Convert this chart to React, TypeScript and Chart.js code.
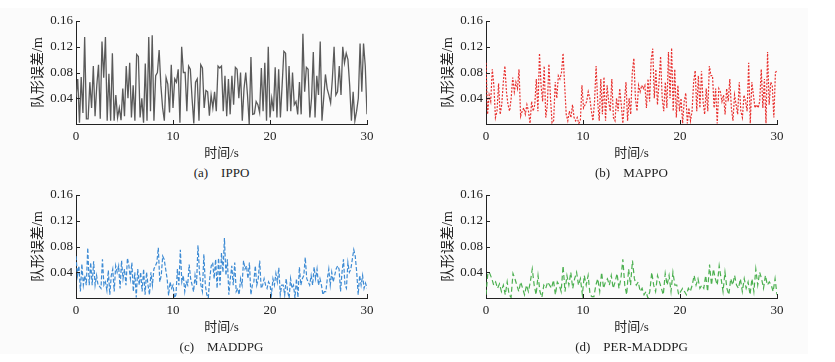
import React, { useEffect, useRef } from 'react';
import { Chart, registerables } from 'chart.js';

Chart.register(...registerables);

// ---------------- data ----------------
const X_MAX = 30;
const X_TICKS = [0, 10, 20, 30];
const Y_TICKS = [0.04, 0.08, 0.12, 0.16];
const X_TITLE = '时间/s';
const Y_TITLE = '队形误差/m';

const IPPO = [
  0.042, 0.070, 0.002, 0.073, 0.017, 0.135, 0.008, 0.008, 0.065, 0.025,
  0.090, 0.012, 0.060, 0.092, 0.008, 0.128, 0.072, 0.135, 0.005, 0.078,
  0.005, 0.110, 0.005, 0.045, 0.010, 0.025, 0.006, 0.055, 0.012, 0.090,
  0.040, 0.095, 0.010, 0.060, 0.005, 0.108, 0.105, 0.010, 0.040, 0.002,
  0.094, 0.005, 0.135, 0.020, 0.138, 0.005, 0.075, 0.080, 0.115, 0.060,
  0.025, 0.005, 0.072, 0.062, 0.018, 0.092, 0.025, 0.070, 0.065, 0.085,
  0.002, 0.120, 0.080, 0.080, 0.020, 0.090, 0.085, 0.040, 0.001, 0.065,
  0.070, 0.005, 0.092, 0.087, 0.025, 0.052, 0.050, 0.013, 0.045, 0.025,
  0.050, 0.020, 0.090, 0.087, 0.090, 0.020, 0.075, 0.012, 0.070, 0.015,
  0.075, 0.030, 0.088, 0.085, 0.040, 0.080, 0.005, 0.055, 0.080, 0.045,
  0.000, 0.104, 0.015, 0.016, 0.035, 0.030, 0.018, 0.087, 0.020, 0.095,
  0.005, 0.120, 0.010, 0.040, 0.020, 0.088, 0.010, 0.085, 0.010, 0.060,
  0.113, 0.110, 0.020, 0.090, 0.020, 0.080, 0.030, 0.035, 0.015, 0.065,
  0.015, 0.140, 0.050, 0.088, 0.085, 0.010, 0.040, 0.112, 0.010, 0.075,
  0.045, 0.128, 0.005, 0.040, 0.077, 0.055, 0.045, 0.033, 0.070, 0.120,
  0.045, 0.050, 0.090, 0.045, 0.120, 0.095, 0.110, 0.100, 0.060, 0.005,
  0.050, 0.005, 0.020, 0.040, 0.125, 0.050, 0.125, 0.090, 0.015,
];

const MAPPO = [
  0.095, 0.015, 0.045, 0.035, 0.085, 0.060, 0.010, 0.020, 0.063, 0.015,
  0.030, 0.065, 0.090, 0.050, 0.030, 0.020, 0.040, 0.072, 0.050, 0.065,
  0.055, 0.085, 0.012, 0.020, 0.025, 0.015, 0.030, 0.020, 0.001, 0.035,
  0.020, 0.030, 0.070, 0.020, 0.110, 0.060, 0.035, 0.090, 0.010, 0.030,
  0.093, 0.040, 0.002, 0.005, 0.065, 0.040, 0.075, 0.070, 0.080, 0.110,
  0.060, 0.015, 0.005, 0.020, 0.010, 0.030, 0.010, 0.005, 0.010, 0.001,
  0.005, 0.060, 0.025, 0.030, 0.035, 0.050, 0.040, 0.020, 0.005, 0.035,
  0.090, 0.035, 0.005, 0.070, 0.015, 0.073, 0.005, 0.060, 0.035, 0.020,
  0.070, 0.010, 0.005, 0.040, 0.020, 0.055, 0.030, 0.001, 0.035, 0.065,
  0.005, 0.040, 0.015, 0.080, 0.102, 0.040, 0.020, 0.060, 0.050, 0.060,
  0.055, 0.060, 0.025, 0.070, 0.035, 0.100, 0.117, 0.040, 0.085, 0.030,
  0.065, 0.105, 0.040, 0.020, 0.065, 0.025, 0.112, 0.040, 0.118, 0.020,
  0.085, 0.010, 0.060, 0.020, 0.040, 0.001, 0.035, 0.048, 0.001, 0.025,
  0.005, 0.020, 0.065, 0.083, 0.020, 0.075, 0.025, 0.082, 0.035, 0.015,
  0.055, 0.020, 0.090, 0.075, 0.075, 0.025, 0.055, 0.001, 0.055, 0.050,
  0.035, 0.045, 0.015, 0.055, 0.035, 0.070, 0.025, 0.005, 0.045, 0.030,
  0.015, 0.065, 0.020, 0.010, 0.045, 0.035, 0.020, 0.095, 0.001, 0.065,
  0.045, 0.025, 0.030, 0.025, 0.035, 0.085, 0.025, 0.070, 0.001, 0.112,
  0.030, 0.065, 0.060, 0.010, 0.080, 0.083,
];

const MADDPG = [
  0.065, 0.035, 0.050, 0.010, 0.053, 0.020, 0.035, 0.020, 0.078, 0.020,
  0.055, 0.020, 0.057, 0.020, 0.035, 0.020, 0.018, 0.015, 0.060, 0.020,
  0.025, 0.012, 0.043, 0.005, 0.035, 0.045, 0.010, 0.050, 0.040, 0.050,
  0.015, 0.058, 0.030, 0.045, 0.020, 0.062, 0.050, 0.030, 0.055, 0.010,
  0.040, 0.001, 0.045, 0.020, 0.040, 0.010, 0.045, 0.005, 0.040, 0.020,
  0.005, 0.040, 0.020, 0.045, 0.050, 0.055, 0.078, 0.025, 0.035, 0.065,
  0.060, 0.045, 0.030, 0.004, 0.025, 0.015, 0.020, 0.000, 0.005, 0.045,
  0.020, 0.075, 0.025, 0.035, 0.010, 0.025, 0.020, 0.052, 0.030, 0.020,
  0.010, 0.035, 0.020, 0.082, 0.040, 0.020, 0.010, 0.068, 0.020, 0.005,
  0.000, 0.030, 0.050, 0.055, 0.030, 0.060, 0.015, 0.062, 0.020, 0.070,
  0.040, 0.093, 0.035, 0.060, 0.005, 0.030, 0.050, 0.020, 0.055, 0.010,
  0.015, 0.005, 0.030, 0.020, 0.058, 0.045, 0.050, 0.030, 0.055, 0.005,
  0.020, 0.025, 0.050, 0.020, 0.030, 0.058, 0.015, 0.020, 0.030, 0.020,
  0.015, 0.025, 0.020, 0.005, 0.030, 0.020, 0.038, 0.025, 0.047, 0.005,
  0.020, 0.020, 0.005, 0.030, 0.010, 0.000, 0.030, 0.015, 0.020, 0.000,
  0.030, 0.001, 0.048, 0.020, 0.030, 0.035, 0.063, 0.030, 0.025, 0.020,
  0.035, 0.020, 0.048, 0.030, 0.045, 0.020, 0.030, 0.020, 0.005, 0.010,
  0.010, 0.030, 0.045, 0.020, 0.040, 0.025, 0.035, 0.045, 0.050, 0.045,
  0.010, 0.040, 0.060, 0.020, 0.015, 0.055, 0.040, 0.045, 0.060, 0.075,
  0.065, 0.040, 0.005, 0.035, 0.020, 0.035, 0.015, 0.023, 0.015,
];

const PER_MADDPG = [
  0.005, 0.040, 0.038, 0.030, 0.020, 0.025, 0.015, 0.022, 0.010, 0.020,
  0.005, 0.025, 0.005, 0.001, 0.038, 0.030, 0.020, 0.010, 0.025, 0.015,
  0.005, 0.020, 0.010, 0.025, 0.045, 0.020, 0.005, 0.035, 0.010, 0.001,
  0.020, 0.015, 0.025, 0.020, 0.015, 0.028, 0.005, 0.025, 0.020, 0.010,
  0.050, 0.010, 0.035, 0.020, 0.040, 0.015, 0.030, 0.040, 0.020, 0.030,
  0.005, 0.035, 0.020, 0.035, 0.005, 0.002, 0.002, 0.020, 0.030, 0.010,
  0.040, 0.015, 0.025, 0.030, 0.020, 0.035, 0.015, 0.025, 0.038, 0.015,
  0.030, 0.060, 0.020, 0.005, 0.045, 0.020, 0.058, 0.030, 0.020, 0.025,
  0.010, 0.015, 0.005, 0.010, 0.000, 0.010, 0.040, 0.020, 0.010, 0.035,
  0.025, 0.015, 0.005, 0.038, 0.020, 0.035, 0.010, 0.040, 0.020, 0.020,
  0.005, 0.010, 0.015, 0.010, 0.005, 0.015, 0.010, 0.020, 0.035, 0.020,
  0.030, 0.015, 0.020, 0.015, 0.035, 0.010, 0.052, 0.020, 0.045, 0.030,
  0.020, 0.050, 0.030, 0.010, 0.040, 0.015, 0.005, 0.030, 0.020, 0.035,
  0.020, 0.015, 0.030, 0.010, 0.030, 0.015, 0.025, 0.005, 0.030, 0.010,
  0.045, 0.020, 0.040, 0.030, 0.015, 0.035, 0.020, 0.025, 0.020, 0.010,
  0.030, 0.005,
];

// ---------------- styling ----------------
const AXIS_COLOR = '#222';
const TEXT_COLOR = '#222';
const SERIF = "'Liberation Serif', 'Times New Roman', serif";
const TITLE_FONT = "'Liberation Serif', 'Noto Sans CJK SC', serif";

const CANVAS_W = 417;
const CANVAS_H = 165;

const inwardTicks = {
  id: 'inwardTicks',
  afterDraw(chart: any) {
    const { ctx, chartArea, scales } = chart;
    const x = scales.x;
    const y = scales.y;
    ctx.save();
    ctx.strokeStyle = AXIS_COLOR;
    ctx.lineWidth = 1;
    ctx.beginPath();
    X_TICKS.slice(1).forEach((v) => {
      const px = Math.round(x.getPixelForValue(v)) + 0.5;
      ctx.moveTo(px, chartArea.bottom);
      ctx.lineTo(px, chartArea.bottom - 4);
    });
    Y_TICKS.forEach((v) => {
      const py = Math.round(y.getPixelForValue(v)) + 0.5;
      ctx.moveTo(chartArea.left, py);
      ctx.lineTo(chartArea.left + 4, py);
    });
    ctx.stroke();
    ctx.restore();
  },
};

function toPoints(values: number[]) {
  const n = values.length;
  return values.map((v, i) => ({ x: (X_MAX * i) / (n - 1), y: v }));
}

type PanelProps = {
  left: number;
  top: number;
  values: number[];
  color: string;
  dash: number[];
  width: number;
  caption: string;
};

function Panel({ left, top, values, color, dash, width, caption }: PanelProps) {
  const ref = useRef<HTMLCanvasElement>(null);
  useEffect(() => {
    if (!ref.current) return;
    const chart = new Chart(ref.current, {
      type: 'line',
      data: {
        datasets: [
          {
            data: toPoints(values),
            borderColor: color,
            borderWidth: width,
            borderDash: dash,
            pointRadius: 0,
            tension: 0,
            fill: false,
          },
        ],
      },
      options: {
        animation: false,
        responsive: false,
        maintainAspectRatio: false,
        layout: { padding: { left: 0, right: 50, top: 21, bottom: 0 } },
        plugins: { legend: { display: false }, tooltip: { enabled: false } },
        scales: {
          x: {
            type: 'linear',
            min: 0,
            max: X_MAX,
            afterBuildTicks: (s: any) => {
              s.ticks = X_TICKS.map((v) => ({ value: v }));
            },
            grid: { display: false, drawTicks: false },
            border: { display: true, color: AXIS_COLOR, width: 1 },
            ticks: {
              padding: 5,
              color: TEXT_COLOR,
              font: { family: SERIF, size: 13 },
              maxRotation: 0,
              autoSkip: false,
              callback: (v: any) => String(v),
            },
            title: {
              display: true,
              text: X_TITLE,
              color: TEXT_COLOR,
              font: { family: TITLE_FONT, size: 13 },
              padding: { top: 0, bottom: 4 },
            },
            afterFit: (s: any) => {
              s.height = CANVAS_H - 124;
            },
          },
          y: {
            min: 0,
            max: 0.16,
            afterBuildTicks: (s: any) => {
              s.ticks = [0, ...Y_TICKS].map((v) => ({ value: v }));
            },
            grid: { display: false, drawTicks: false },
            border: { display: true, color: AXIS_COLOR, width: 1 },
            ticks: {
              padding: 3,
              color: TEXT_COLOR,
              font: { family: SERIF, size: 13 },
              callback: (v: any) => (v === 0 ? '' : Number(v).toFixed(2)),
            },
            title: {
              display: true,
              text: Y_TITLE,
              color: TEXT_COLOR,
              font: { family: TITLE_FONT, size: 14 },
              padding: { top: 30, bottom: 0 },
            },
            afterFit: (s: any) => {
              s.width = 76;
            },
          },
        },
      },
      plugins: [inwardTicks],
    } as any);
    return () => chart.destroy();
  }, [values, color, dash, width]);

  return (
    <>
      <canvas
        ref={ref}
        width={CANVAS_W}
        height={CANVAS_H}
        style={{ position: 'absolute', left, top, width: CANVAS_W, height: CANVAS_H }}
      />
      <div
        style={{
          position: 'absolute',
          left: left + 76,
          top: top + 165,
          width: 291,
          textAlign: 'center',
          fontFamily: SERIF,
          fontSize: 13,
          lineHeight: '16px',
          color: TEXT_COLOR,
          whiteSpace: 'pre',
        }}
      >
        {caption}
      </div>
    </>
  );
}

export default function App() {
  return (
    <div
      style={{
        position: 'absolute',
        left: 0,
        top: 0,
        width: 835,
        height: 362,
        background: '#ffffff',
        overflow: 'hidden',
      }}
    >
      <div style={{ position: 'absolute', left: 0, top: 8, width: 808, height: 346, background: '#fbfbfb' }} />
      <Panel left={0} top={0} values={IPPO} color="#5a5a5a" dash={[]} width={1.3} caption={'(a)\u2003IPPO'} />
      <Panel left={410} top={0} values={MAPPO} color="#e8302e" dash={[2, 1.5]} width={1.2} caption={'(b)\u2003MAPPO'} />
      <Panel left={0} top={174} values={MADDPG} color="#3d8bd4" dash={[4, 2]} width={1.2} caption={'(c)\u2003MADDPG'} />
      <Panel left={410} top={174} values={PER_MADDPG} color="#4cb050" dash={[5, 3]} width={1.2} caption={'(d)\u2003PER-MADDPG'} />
    </div>
  );
}
